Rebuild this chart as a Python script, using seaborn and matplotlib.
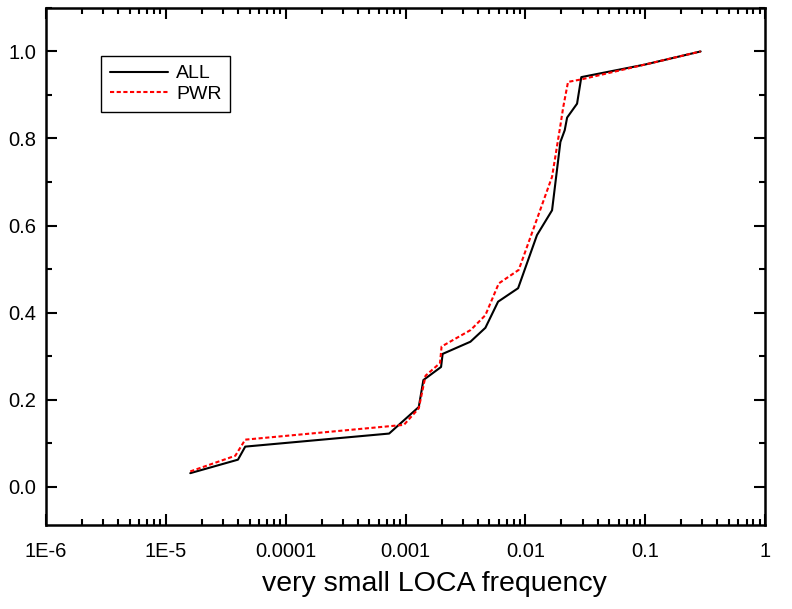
import numpy as np
import pandas as pd
import matplotlib
matplotlib.use("Agg")
import matplotlib.pyplot as plt
import matplotlib.ticker as mticker
import seaborn as sns

# values
all_freq = [1.6e-5, 4.0e-5, 4.6e-5, 7.3e-4, 1.29e-3, 1.41e-3, 1.98e-3, 2.04e-3,
            3.48e-3, 4.64e-3, 5.92e-3, 8.7e-3, 1.25e-2, 1.67e-2, 1.96e-2,
            2.13e-2, 2.23e-2, 2.70e-2, 2.93e-2, 0.1, 0.29]
all_cdf = [0.031, 0.062, 0.092, 0.122, 0.183, 0.245, 0.275, 0.305,
           0.333, 0.365, 0.425, 0.456, 0.578, 0.635, 0.792,
           0.819, 0.848, 0.880, 0.941, 0.970, 1.0]

pwr_freq = [1.6e-5, 3.8e-5, 4.6e-5, 9.7e-4, 1.29e-3, 1.47e-3, 1.94e-3, 2.0e-3,
            3.5e-3, 4.64e-3, 6.0e-3, 8.8e-3, 1.25e-2, 1.67e-2, 1.96e-2,
            2.07e-2, 2.27e-2, 2.96e-2, 0.093, 0.29]
pwr_cdf = [0.035, 0.071, 0.108, 0.142, 0.180, 0.255, 0.284, 0.322,
           0.360, 0.394, 0.467, 0.498, 0.615, 0.712, 0.830,
           0.872, 0.930, 0.936, 0.968, 1.0]

x_ticks = [1e-6, 1e-5, 1e-4, 1e-3, 1e-2, 1e-1, 1]
x_tick_labels = ["1E-6", "1E-5", "0.0001", "0.001", "0.01", "0.1", "1"]

df = pd.concat([
    pd.DataFrame({"freq": all_freq, "cdf": all_cdf, "group": "ALL"}),
    pd.DataFrame({"freq": pwr_freq, "cdf": pwr_cdf, "group": "PWR"}),
])

sns.set_style("ticks")
plt.rcParams["font.family"] = ["Liberation Sans", "DejaVu Sans"]
for k in ["text.color", "axes.labelcolor", "xtick.color", "ytick.color"]:
    plt.rcParams[k] = "black"

fig = plt.figure(figsize=(7.92, 6.09), dpi=100)
ax = fig.add_axes([0.058, 0.138, 0.908, 0.849])

#draw both curves
sns.lineplot(data=df[df.group == "ALL"], x="freq", y="cdf", sort=False,
             color="black", linewidth=1.5, label="ALL", ax=ax)
sns.lineplot(data=df[df.group == "PWR"], x="freq", y="cdf", sort=False,
             color="red", linewidth=1.5, linestyle=(0, (2, 1.2)), label="PWR", ax=ax)

ax.set_xscale("log")
ax.set_xlim(1e-6, 1)
ax.set_ylim(-0.088, 1.1)
ax.set_xticks(x_ticks)
ax.set_xticklabels(x_tick_labels)
ax.xaxis.set_minor_locator(mticker.LogLocator(base=10, subs=np.arange(2, 10), numticks=20))
ax.xaxis.set_minor_formatter(mticker.NullFormatter())
ax.set_yticks([0.0, 0.2, 0.4, 0.6, 0.8, 1.0])
ax.yaxis.set_major_formatter(mticker.FormatStrFormatter("%.1f"))
ax.yaxis.set_minor_locator(mticker.MultipleLocator(0.1))

ax.tick_params(which="both", direction="in", top=True, right=True, width=1.5, labelsize=14.5)
ax.tick_params(which="major", length=8)
ax.tick_params(which="minor", length=4)
ax.tick_params(axis="x", which="major", pad=12)
ax.tick_params(axis="y", which="major", pad=7)
for s in ax.spines.values():
    s.set_linewidth(1.8)
    s.set_color("black")

#x label sits a bit right of centre in the original
ax.set_xlabel("very small LOCA frequency", fontsize=20.5)
ax.xaxis.set_label_coords(0.54, -0.09)
ax.set_ylabel("")

leg = ax.legend(loc="upper left", bbox_to_anchor=(0.077, 0.907), borderaxespad=0,
                fontsize=14, fancybox=False, framealpha=1, edgecolor="black",
                handlelength=3.0, borderpad=0.45, labelspacing=0.15, handletextpad=0.4)
leg.get_frame().set_linewidth(1.0)

fig.savefig("out.png", dpi=100)
